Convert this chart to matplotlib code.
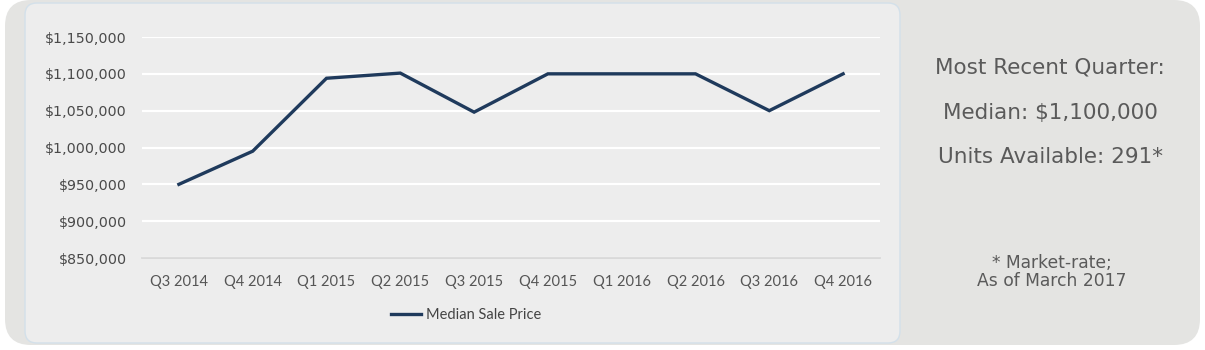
import matplotlib
matplotlib.use("Agg")
import matplotlib.pyplot as plt
from matplotlib.patches import FancyBboxPatch
from matplotlib.ticker import FuncFormatter

quarters = ["Q3 2014", "Q4 2014", "Q1 2015", "Q2 2015", "Q3 2015",
            "Q4 2015", "Q1 2016", "Q2 2016", "Q3 2016", "Q4 2016"]
median_price = [950000, 995000, 1094000, 1101000, 1048000,
                1100000, 1100000, 1100000, 1050000, 1100000]
y_ticks = [850000, 900000, 950000, 1000000, 1050000, 1100000, 1150000]

summary_lines = ["Most Recent Quarter:", "Median: $1,100,000", "Units Available: 291*"]
footnote = "* Market-rate;\nAs of March 2017"

W, H = 1205, 350
fig = plt.figure(figsize=(W / 100, H / 100), dpi=100)
fig.patch.set_facecolor("white")

# background canvas in pixel coordinates
bg = fig.add_axes([0, 0, 1, 1])
bg.set_xlim(0, W)
bg.set_ylim(H, 0)
bg.axis("off")
bg.add_patch(FancyBboxPatch((5, 0), 1195, 345, boxstyle="round,pad=0,rounding_size=26",
                            facecolor="#e4e4e2", edgecolor="none"))
bg.add_patch(FancyBboxPatch((25, 3), 875, 340, boxstyle="round,pad=0,rounding_size=12",
                            facecolor="#ededed", edgecolor="#d3e0ea", linewidth=1))

txt_color = "#5a5a5a"
for text, y in zip(summary_lines, [68, 113, 157]):
    bg.text(1050, y, text, ha="center", va="center", fontsize=15.5,
            color=txt_color, family="DejaVu Sans")
bg.text(1052, 272, footnote, ha="center", va="center", fontsize=12.3,
        color=txt_color, family="DejaVu Sans", linespacing=1.0)

# main line chart
left, right, top, bottom = 142, 880, 37, 258
ax = fig.add_axes([left / W, 1 - bottom / H, (right - left) / W, (bottom - top) / H])
ax.set_facecolor("none")
x = list(range(len(quarters)))
line, = ax.plot(x, median_price, color="#1f3a5c", linewidth=2.4,
                solid_joinstyle="miter", label="Median Sale Price")
ax.set_xlim(-0.5, len(quarters) - 0.5)
ax.set_ylim(850000, 1150000)
ax.set_yticks(y_ticks)
ax.yaxis.set_major_formatter(FuncFormatter(lambda v, p: f"${v:,.0f}"))
ax.set_xticks(x)
ax.set_xticklabels(quarters)
ax.grid(axis="y", color="white", linewidth=1.6)
ax.set_axisbelow(True)
for s in ["top", "right", "left"]:
    ax.spines[s].set_visible(False)
ax.spines["bottom"].set_color("#d6d6d6")
ax.spines["bottom"].set_linewidth(1.2)
ax.tick_params(axis="x", length=0, labelsize=10.5, labelcolor="#555555", pad=12)
ax.tick_params(axis="y", length=0, labelsize=10.3, labelcolor="#4a4a4a", pad=11)
for lab in ax.get_xticklabels():
    lab.set_family("Lato")
for lab in ax.get_yticklabels():
    lab.set_family("DejaVu Sans")

fig.legend(handles=[line], loc="center", bbox_to_anchor=(466 / W, 1 - 315 / H),
           frameon=False, handlelength=2.1, handletextpad=0.3,
           prop={"family": "Lato", "size": 10.5}, labelcolor="#444444")

fig.savefig("out.png", dpi=100, facecolor="white")
